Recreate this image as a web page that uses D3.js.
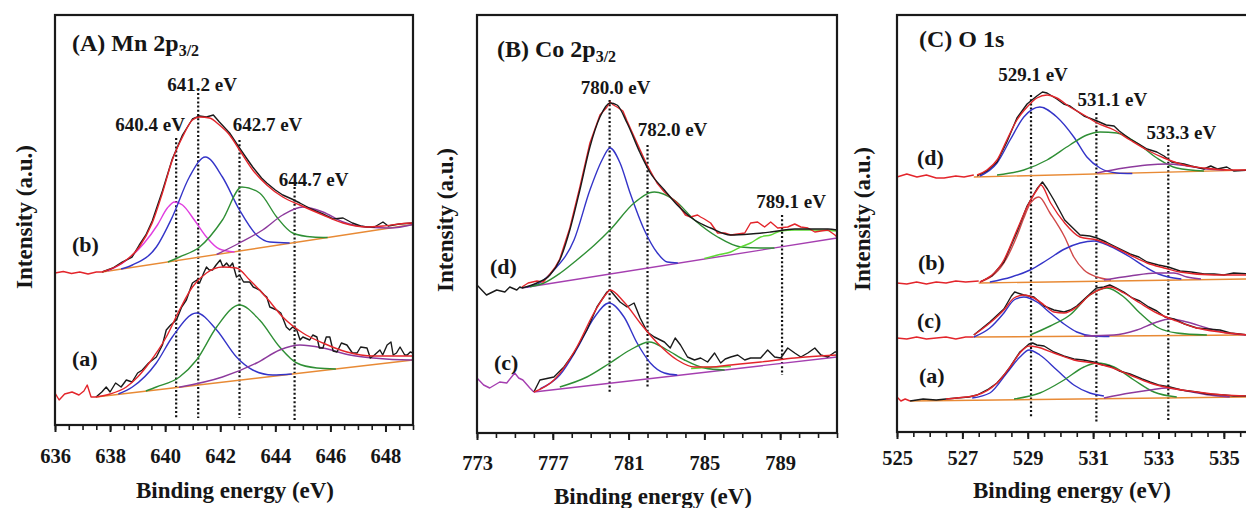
<!DOCTYPE html>
<html><head><meta charset="utf-8">
<script src="https://cdn.jsdelivr.net/npm/d3@7"></script>
<style>
body{margin:0;background:#fff}
svg{display:block}
text{font-family:"Liberation Serif","Times New Roman",Times,serif;font-weight:bold;fill:#161616}
</style>
</head><body>
<svg id="chart" width="1246" height="508"></svg>
<script>
// ---------- tick labels ----------
const aTicks = [636, 638, 640, 642, 644, 646, 648];
const bTicks = [773, 777, 781, 785, 789];
const cTicks = [525, 527, 529, 531, 533, 535];

// ---------- peak reference lines (eV, top a.u., bottom a.u.) ----------
const aPeaks = [640.4, 641.2, 642.7, 644.7];
const aPeakTop = [287, 332, 285, 238];
const aPeakBottom = [7, 7, 7, 3];
const bPeaks = [780.0, 782.0, 789.1];
const bPeakTop = [333, 288, 218];
const bPeakBottom = [41, 46, 58];
const cPeaks = [529.1, 531.1, 533.3];
const cPeakTop = [337, 319, 287];
const cPeakBottom = [14, 9, 12];

// ---------- Panel A : Mn 2p3/2 ----------
// sample (b)
const aB_pre = [[636.0,152],[636.3,153.5],[636.6,151.5],[636.9,153],[637.2,151],[637.5,153],[637.71,153]];
const aB_base = [[637.71,153],[649.0,200.5]];
const aB_raw = [[637.71,153],[638.1,157],[638.44,163],[638.8,168],[639.06,180],[639.3,190],[639.53,204],[639.9,234],[640.26,266],[640.63,290],[640.99,306],[641.25,309],[641.5,308],[641.75,310],[641.97,303],[642.34,292],[642.7,277],[643.0,265],[643.18,258],[643.5,247],[643.69,242],[644.0,235],[644.27,230],[644.6,226],[644.89,222],[645.3,216],[645.73,211],[646.1,206],[646.46,207],[646.8,202],[647.1,199],[647.33,198],[647.6,198],[647.91,203],[648.1,199],[648.5,201],[649.0,202]];
const aB_fit = [[637.71,153],[638.44,162],[639.06,178],[639.53,202],[639.9,232],[640.26,265],[640.63,288],[640.99,305],[641.25,308],[641.61,307],[641.97,300],[642.34,290],[642.7,275],[643.18,255],[643.69,240],[644.27,228],[644.89,220],[645.73,210],[646.46,202],[647.33,198],[647.91,199],[648.9,202],[649.0,201.5]];
const aB_p1 = [[637.9,154],[638.15,157],[638.7,167],[639.24,182],[639.72,200],[640.08,217],[640.34,223],[640.63,220],[641.06,205],[641.5,188],[641.97,176],[642.52,173]];
const aB_p2 = [[638.4,156],[638.81,160],[639.68,178],[640.26,208],[640.88,248],[641.46,268],[642.08,248],[642.7,215],[643.32,190],[643.8,183],[644.52,182]];
const aB_p3 = [[640.1,163],[640.52,168],[641.25,178],[642.08,205],[642.78,238],[643.43,232],[644.05,208],[644.63,192],[645.36,188],[645.9,187.5]];
const aB_p4 = [[641.87,170.5],[642.7,182],[643.54,195],[644.27,210],[645.0,218],[645.73,213],[646.46,203],[647.33,198],[648.17,197],[649.0,200.5]];
// sample (a)
const aA_pre = [[636.0,32],[636.15,25],[636.35,31],[636.62,33],[636.87,30],[637.05,34],[637.17,40],[637.31,28],[637.49,28]];
const aA_base = [[637.49,28],[649.0,65]];
const aA_raw = [[637.49,28],[637.7,33],[637.86,38],[638.0,33],[638.2,42],[638.4,38],[638.59,45],[638.8,43],[639.0,52],[639.17,55],[639.4,62],[639.68,68],[639.9,80],[640.04,95],[640.2,100],[640.41,105],[640.6,118],[640.77,125],[640.99,142],[641.15,145],[641.25,142],[641.4,152],[641.5,158],[641.6,155],[641.72,155],[641.85,160],[642.0,165],[642.1,158],[642.23,162],[642.34,158],[642.45,162],[642.59,148],[642.7,150],[642.85,143],[643.07,143],[643.2,138],[643.43,135],[643.6,130],[643.69,128],[643.8,118],[644.05,115],[644.2,112],[644.4,98],[644.52,95],[644.63,98],[644.78,95],[644.9,85],[645.0,88],[645.25,85],[645.36,90],[645.51,88],[645.6,77],[645.73,77],[645.85,88],[645.98,88],[646.1,74],[646.24,73],[646.4,82],[646.6,80],[646.8,72],[646.97,72],[647.1,78],[647.33,77],[647.45,67],[647.6,70],[647.8,75],[647.9,70],[648.06,80],[648.2,83],[648.28,70],[648.4,72],[648.53,78],[648.7,70],[648.79,70],[648.9,73],[649.0,72]];
const aA_fit = [[637.49,28],[638.0,31],[638.59,38],[639.0,48],[639.42,62],[640.04,88],[640.52,115],[640.99,138],[641.5,152],[642.08,158],[642.59,157],[643.07,145],[643.69,127],[644.27,108],[645.0,92],[645.73,82],[646.6,73],[647.55,69],[648.9,69],[649.0,69]];
const aA_p2 = [[638.3,31],[638.81,38],[639.68,62],[640.26,88],[641.14,112],[641.87,95],[642.59,68],[643.18,55],[643.91,50],[644.6,51]];
const aA_p3 = [[639.3,34],[639.68,38],[640.52,48],[641.14,65],[641.87,98],[642.7,120],[643.43,105],[644.16,78],[644.78,62],[645.51,57],[646.2,56]];
const aA_p4 = [[640.5,37.7],[642.08,48],[643.32,62],[644.16,75],[644.89,80],[645.73,77],[646.71,70],[647.55,67],[648.9,65],[649.0,65.2]];

// ---------- Panel B : Co 2p3/2 ----------
// sample (d)
const bD_pre = [[773.0,148],[773.5,138],[774.04,143],[774.47,141],[774.73,146],[775.1,143],[775.26,146],[775.37,145]];
const bD_base = [[775.37,145],[792.0,195]];
const bD_raw = [[775.37,146],[775.7,150],[776.16,152],[776.5,151],[776.85,159],[777.1,165],[777.37,174],[777.9,205],[778.43,246],[778.96,290],[779.49,318],[779.86,326],[780.02,331],[780.2,328],[780.39,326],[780.7,322],[780.92,312],[781.3,296],[781.61,283],[781.9,271],[782.15,262],[782.5,250],[782.89,241],[783.2,236],[783.57,230],[784.0,218],[784.27,216],[784.64,218],[784.8,216],[785.0,214],[785.33,210],[785.7,200],[786.07,200],[786.39,198],[786.76,199],[787.13,200],[787.44,210],[787.81,211],[788.18,206],[788.5,211],[788.87,205],[789.4,206],[789.77,209],[790.09,206],[790.46,205],[790.83,201],[791.15,202],[791.52,203],[791.89,198],[792.0,196]];
const bD_fit = [[775.37,145],[776.16,150],[776.85,158],[777.37,173],[777.9,203],[778.43,243],[778.96,286],[779.49,316],[780.02,330],[780.39,328],[780.92,310],[781.61,280],[782.15,260],[782.89,243],[783.57,228],[784.48,213],[785.33,205],[786.39,198],[787.44,199],[788.5,201],[789.77,204],[791.52,204],[792.0,203]];
const bD_p1 = [[775.63,146],[776.3,150],[777.06,163],[778.12,193],[778.96,243],[779.6,273],[780.02,285],[780.55,270],[781.08,240],[781.83,203],[782.52,180],[783.04,171],[783.6,170]];
const bD_p2 = [[775.8,146.3],[776.53,150],[777.4,160],[778.27,173],[779.2,188],[780.02,203],[781.29,230],[782.36,241],[783.41,233],[784.48,213],[785.7,196],[786.92,186],[787.97,185],[788.7,185]];
const bD_p3 = [[785.0,174.5],[785.7,178],[786.39,181],[786.92,186],[787.44,190],[787.97,196],[788.5,198],[789.03,202],[789.77,203],[790.62,203],[792.0,202]];
// sample (c)
const bC_pre = [[773.0,55],[773.35,48],[773.67,45],[774.2,51],[774.57,50],[774.99,60],[775.2,55],[775.42,53],[775.79,45],[776.0,41]];
const bC_base = [[776.0,41],[792.0,76]];
const bC_raw = [[776.0,41],[776.32,53],[777.06,56],[777.59,66],[778.12,80],[778.8,103],[779.33,126],[779.86,141],[780.02,143],[780.55,131],[780.92,126],[781.29,130],[781.61,115],[781.99,101],[782.36,96],[782.89,91],[783.2,85],[783.46,95],[783.74,88],[784.11,76],[784.48,73],[784.8,75],[785.17,71],[785.54,80],[785.86,70],[786.1,74],[786.39,76],[786.76,78],[787.13,73],[787.44,75],[787.97,75],[788.34,83],[788.71,76],[789.03,75],[789.4,85],[789.77,80],[790.09,76],[790.46,80],[790.83,85],[791.15,78],[791.52,76],[791.89,81],[792.0,81]];
const bC_fit = [[776.0,41],[777.06,53],[778.27,86],[779.17,120],[779.86,140],[780.02,143],[780.76,131],[781.61,110],[782.52,90],[783.57,73],[784.48,66],[785.33,66],[786.39,68],[787.97,71],[789.77,75],[792.0,78]];
const bC_p1 = [[776.32,44],[777.37,58],[778.27,84],[779.17,115],[779.97,130],[780.76,116],[781.45,90],[782.15,70],[782.89,60],[783.57,58]];
const bC_p2 = [[777.37,46],[778.8,56],[780.02,70],[781.08,83],[782.09,91],[783.04,83],[783.95,73],[785.0,65],[786.07,63]];
const bC_p3 = [[784.3,64.5],[785.0,65.5],[785.7,66],[786.4,66.5]];

// ---------- Panel C : O 1s ----------
// sample (d)
const cD_pre = [[525.0,255],[525.3,258],[525.61,255],[525.9,257],[526.2,254],[526.44,254],[526.8,256],[527.05,255],[527.35,257]];
const cD_base = [[527.35,255],[535.8,262]];
const cD_raw = [[527.45,256],[527.75,261],[528.06,270],[528.36,290],[528.67,314],[528.98,328],[529.28,336],[529.45,340],[529.59,339],[529.89,333],[530.1,328],[530.29,326],[530.72,316],[531.12,311],[531.4,307],[531.64,306],[531.8,301],[532.13,293],[532.4,288],[532.65,283],[532.95,280],[533.17,276],[533.4,270],[533.78,268],[534.0,266],[534.39,263],[534.6,266],[534.8,263],[535.09,265],[535.3,261],[535.8,262]];
const cD_fit = [[527.45,257],[527.75,262],[528.06,272],[528.36,292],[528.67,312],[528.98,325],[529.28,334],[529.59,337],[529.89,334],[530.29,325],[530.72,317],[531.12,309],[531.64,302],[532.13,292],[532.65,282],[533.17,274],[533.78,267],[534.39,264],[535.18,262],[535.8,262]];
const cD_p1 = [[527.54,256],[528.06,269],[528.46,292],[528.88,315],[529.37,325],[529.89,315],[530.41,295],[530.81,275],[531.21,264],[531.73,259],[532.2,258.5]];
const cD_p2 = [[528.06,257],[528.88,262],[529.59,272],[530.29,287],[530.81,297],[531.21,300],[531.73,299],[532.34,289],[532.95,274],[533.56,264],[534.39,261]];
const cD_p3 = [[531.12,259],[531.94,264],[532.65,267],[533.26,268],[533.87,266],[534.48,263],[535.0,262]];
// sample (b)
const cB_pre = [[525.0,149],[525.3,148],[525.6,150],[525.9,148],[526.2,150],[526.5,149],[526.8,151],[527.1,150],[527.5,151]];
const cB_base = [[527.5,149],[535.8,153]];
const cB_raw = [[527.54,150],[527.9,156],[528.27,170],[528.67,200],[528.98,226],[529.28,243],[529.45,250],[529.6,243],[529.8,232],[530.13,212],[530.6,197],[530.9,196],[531.12,194],[531.4,190],[531.64,186],[532.13,178],[532.4,175],[532.65,170],[533.0,167],[533.3,165],[533.66,161],[534.0,160],[534.4,158],[534.7,158],[535.0,157],[535.3,159],[535.8,158]];
const cB_fit = [[527.54,150],[528.27,172],[528.67,202],[528.98,225],[529.28,242],[529.4,247],[529.7,229],[530.13,209],[530.6,195],[531.12,192],[531.64,185],[532.13,177],[532.65,169],[533.17,164],[533.66,160],[534.7,157],[535.8,157]];
const cB_p1 = [[527.54,150],[528.27,169],[528.67,196],[528.88,214],[529.07,228],[529.34,235],[529.68,219],[530.13,195],[530.41,175],[530.72,162],[531.12,155],[531.55,152]];
const cB_p2 = [[527.84,150],[528.5,155],[529.07,162],[529.59,172],[530.13,183],[530.6,189],[531.03,191],[531.5,186],[532.13,175],[532.6,165],[533.0,158],[533.3,155],[533.7,153]];
const cB_p3 = [[531.33,152],[532.13,156],[532.95,159],[533.47,159],[533.87,155],[534.3,153]];
// sample (c)
const cC_pre = [[525.0,94],[525.3,93],[525.6,95],[525.9,93],[526.2,94],[526.5,95],[526.8,93],[527.1,95],[527.35,95]];
const cC_base = [[527.35,95],[535.8,97]];
const cC_raw = [[527.35,97],[527.84,110],[528.27,123],[528.5,136],[528.6,140],[528.88,137],[529.19,135],[529.5,126],[529.8,122],[530.11,120],[530.3,122],[530.5,126],[530.9,138],[531.1,144],[531.33,145],[531.51,147],[531.7,144],[531.94,140],[532.2,134],[532.43,131],[532.7,125],[532.95,121],[533.2,115],[533.47,113],[533.8,108],[534.17,104],[534.5,103],[534.88,102],[535.2,99],[535.8,97]];
const cC_fit = [[527.35,97],[527.84,109],[528.27,122],[528.58,134],[528.88,137],[529.19,134],[529.5,127],[529.8,120],[530.11,119],[530.5,125],[530.9,137],[531.33,144],[531.51,145],[531.94,139],[532.43,129],[532.95,119],[533.47,112],[534.17,104],[534.88,100],[535.8,97]];
const cC_p1 = [[527.35,95],[527.84,104],[528.27,119],[528.58,132],[528.88,135],[529.28,130],[529.69,119],[530.11,108],[530.5,100],[531.0,96],[531.5,95.5]];
const cC_p2 = [[529.07,97],[529.69,106],[530.29,117],[530.9,137],[531.42,144],[531.94,135],[532.43,119],[532.95,105],[533.56,99],[534.48,97]];
const cC_p3 = [[530.72,96],[531.64,97],[532.34,102],[532.95,110],[533.35,113],[533.87,110],[534.48,104],[535.09,99],[535.67,97]];
// sample (a)
const cA_pre = [[525.0,35],[525.12,31],[525.25,33],[525.4,31]];
const cA_base = [[525.4,31],[535.8,35]];
const cA_raw = [[525.4,31],[525.8,33],[526.2,32],[526.5,33],[526.83,34],[527.2,35],[527.45,37],[527.8,43],[528.06,49],[528.3,58],[528.46,65],[528.76,80],[529.04,88],[529.15,89],[529.28,87],[529.5,86],[529.8,80],[530.1,76],[530.41,73],[530.7,72],[531.02,70],[531.3,67],[531.51,66],[531.8,61],[532.13,58],[532.5,53],[532.74,50],[533.0,47],[533.35,45],[533.7,42],[534.17,40],[534.5,38],[535.0,37],[535.3,36],[535.8,36]];
const cA_fit = [[526.5,33],[526.83,34],[527.45,37],[528.06,49],[528.46,65],[528.76,79],[529.04,86],[529.28,85],[529.8,79],[530.41,72],[531.02,69],[531.51,65],[532.13,57],[532.74,49],[533.35,44],[534.17,40],[535.0,37],[535.8,36]];
const cA_p1 = [[527.3,34],[527.84,39],[528.36,59],[528.76,75],[529.04,82],[529.37,77],[529.89,62],[530.41,47],[530.9,39],[531.33,36]];
const cA_p2 = [[528.58,33],[529.37,39],[530.11,52],[530.72,65],[531.12,69],[531.64,65],[532.25,52],[532.86,40],[533.56,35]];
const cA_p3 = [[531.33,34],[532.13,39],[532.74,42],[533.26,44],[533.87,41],[534.57,37],[535.18,35]];

// ---------- colours ----------
const COL = {
  raw: "#1a1a1a", fit: "#e3252b", blue: "#3434c8", green: "#2f8f35",
  magenta: "#e03ee0", purple: "#8d3a9d", orange: "#e88a35", lime: "#5fd836",
  salmon: "#d04848", bgPurple: "#a53fb0"
};

const svg = d3.select("#chart");

const panels = [
  {
    left: 55, right: 413, top: 15, bottom: 425, domain: [636, 649],
    ticks: aTicks, minorStep: 0.5, labelOffset: 38,
    title: "(A) Mn 2p", sub: "3/2", titleX: 72, titleY: 51,
    yTitleX: 32, yTitleY: 217, xTitleX: 235, xTitleY: 498,
    peaks: aPeaks, peakTop: aPeakTop, peakBottom: aPeakBottom,
    peakLabelDx: [-26, 4, 28, 19], peakLabelY: [131, 91, 131, 186],
    samples: [
      { name: "(b)", lx: 72, ly: 252, layers: [
        [aB_pre, COL.fit, true], [aB_base, COL.orange], [aB_p1, COL.magenta], [aB_p2, COL.blue],
        [aB_p3, COL.green], [aB_p4, COL.purple], [aB_raw, COL.raw, true], [aB_fit, COL.fit]] },
      { name: "(a)", lx: 72, ly: 366, layers: [
        [aA_pre, COL.fit, true], [aA_base, COL.orange], [aA_p2, COL.blue],
        [aA_p3, COL.green], [aA_p4, COL.purple], [aA_raw, COL.raw, true], [aA_fit, COL.fit]] }
    ]
  },
  {
    left: 477, right: 837, top: 15, bottom: 433, domain: [773, 792],
    ticks: bTicks, minorStep: 1, labelOffset: 37,
    title: "(B) Co 2p", sub: "3/2", titleX: 497, titleY: 57,
    yTitleX: 453, yTitleY: 220, xTitleX: 653, xTitleY: 504,
    peaks: bPeaks, peakTop: bPeakTop, peakBottom: bPeakBottom,
    peakLabelDx: [6, 25, 9], peakLabelY: [94, 136, 208],
    samples: [
      { name: "(d)", lx: 490, ly: 274, layers: [
        [bD_pre, COL.raw, true], [bD_base, COL.bgPurple], [bD_p1, COL.blue], [bD_p2, COL.green],
        [bD_p3, COL.lime], [bD_raw, COL.fit, true], [bD_fit, COL.raw]] },
      { name: "(c)", lx: 494, ly: 370, layers: [
        [bC_pre, COL.bgPurple, true], [bC_base, COL.bgPurple], [bC_p1, COL.blue], [bC_p2, COL.green],
        [bC_p3, COL.lime], [bC_raw, COL.raw, true], [bC_fit, COL.fit]] }
    ]
  },
  {
    left: 897, right: 1250, top: 15, bottom: 432, domain: [525, 535.8],
    ticks: cTicks, minorStep: 0.5, labelOffset: 33,
    title: "(C) O 1s", sub: "", titleX: 919, titleY: 47,
    yTitleX: 870, yTitleY: 219, xTitleX: 1072, xTitleY: 498,
    peaks: cPeaks, peakTop: cPeakTop, peakBottom: cPeakBottom,
    peakLabelDx: [2, 16, 13], peakLabelY: [81, 106, 139],
    samples: [
      { name: "(d)", lx: 917, ly: 165, layers: [
        [cD_pre, COL.fit, true], [cD_base, COL.orange], [cD_p1, COL.blue], [cD_p2, COL.green],
        [cD_p3, COL.purple], [cD_raw, COL.raw, true], [cD_fit, COL.fit]] },
      { name: "(b)", lx: 918, ly: 270, layers: [
        [cB_pre, COL.fit, true], [cB_base, COL.orange], [cB_p1, COL.salmon], [cB_p2, COL.blue],
        [cB_p3, COL.purple], [cB_raw, COL.raw, true], [cB_fit, COL.fit]] },
      { name: "(c)", lx: 917, ly: 328, layers: [
        [cC_pre, COL.fit, true], [cC_base, COL.orange], [cC_p1, COL.blue], [cC_p2, COL.green],
        [cC_p3, COL.purple], [cC_raw, COL.raw, true], [cC_fit, COL.fit]] },
      { name: "(a)", lx: 919, ly: 383, layers: [
        [cA_pre, COL.fit, true], [cA_base, COL.orange], [cA_p1, COL.blue], [cA_p2, COL.green],
        [cA_p3, COL.purple], [cA_raw, COL.raw, true], [cA_fit, COL.fit]] }
    ]
  }
];

panels.forEach(p => {
  const x = d3.scaleLinear().domain(p.domain).range([p.left, p.right]);
  const y = d3.scaleLinear().domain([0, p.bottom - p.top]).range([p.bottom, p.top]);
  const g = svg.append("g");

  const smooth = d3.line().x(d => x(d[0])).y(d => y(d[1])).curve(d3.curveMonotoneX);
  const rough = d3.line().x(d => x(d[0])).y(d => y(d[1])).curve(d3.curveLinear);

  // dotted reference lines
  p.peaks.forEach((e, i) => {
    g.append("line")
      .attr("x1", x(e)).attr("x2", x(e))
      .attr("y1", y(p.peakTop[i])).attr("y2", y(p.peakBottom[i]))
      .attr("stroke", "#111").attr("stroke-width", 2.2)
      .attr("stroke-dasharray", "2,2.2");
  });

  // spectra
  p.samples.forEach(s => {
    s.layers.forEach(([data, color, noisy]) => {
      g.append("path").datum(data)
        .attr("d", noisy ? rough : smooth)
        .attr("fill", "none").attr("stroke", color)
        .attr("stroke-width", 1.4).attr("stroke-linejoin", "round");
    });
    g.append("text").attr("x", s.lx).attr("y", s.ly)
      .attr("font-size", 22).text(s.name);
  });

  // peak labels
  p.peaks.forEach((e, i) => {
    g.append("text").attr("x", x(e) + p.peakLabelDx[i]).attr("y", p.peakLabelY[i])
      .attr("text-anchor", "middle").attr("font-size", 19)
      .text(e.toFixed(1) + " eV");
  });

  // frame
  g.append("rect").attr("x", p.left).attr("y", p.top)
    .attr("width", p.right - p.left).attr("height", p.bottom - p.top)
    .attr("fill", "none").attr("stroke", "#1a1a1a").attr("stroke-width", 2.2);

  // minor ticks
  const minor = d3.range(p.domain[0], p.domain[1] + 1e-9, p.minorStep);
  const minorAxis = d3.axisBottom(x).tickValues(minor).tickSize(5).tickFormat("");
  const gm = g.append("g").attr("transform", `translate(0,${p.bottom})`).call(minorAxis);
  gm.select(".domain").remove();
  gm.selectAll("line").attr("stroke", "#1a1a1a").attr("stroke-width", 1.6);

  // major ticks + labels
  const majorAxis = d3.axisBottom(x).tickValues(p.ticks).tickSize(7).tickFormat(d3.format("d"));
  const ga = g.append("g").attr("transform", `translate(0,${p.bottom})`).call(majorAxis);
  ga.select(".domain").remove();
  ga.selectAll("line").attr("stroke", "#1a1a1a").attr("stroke-width", 2);
  ga.selectAll("text").attr("y", p.labelOffset).attr("dy", null)
    .attr("font-size", 20.5).attr("fill", "#161616")
    .style("font-family", '"Liberation Serif","Times New Roman",serif').style("font-weight", "bold");
  ga.attr("font-family", null).attr("font-size", null);

  // titles
  const t = g.append("text").attr("x", p.titleX).attr("y", p.titleY).attr("font-size", 24).text(p.title);
  if (p.sub) t.append("tspan").attr("font-size", 16).attr("dy", 5).text(p.sub);

  g.append("text").attr("transform", `translate(${p.yTitleX},${p.yTitleY}) rotate(-90)`)
    .attr("text-anchor", "middle").attr("font-size", 23).text("Intensity (a.u.)");
  g.append("text").attr("x", p.xTitleX).attr("y", p.xTitleY)
    .attr("text-anchor", "middle").attr("font-size", 23).text("Binding energy (eV)");
});
</script>
</body></html>
